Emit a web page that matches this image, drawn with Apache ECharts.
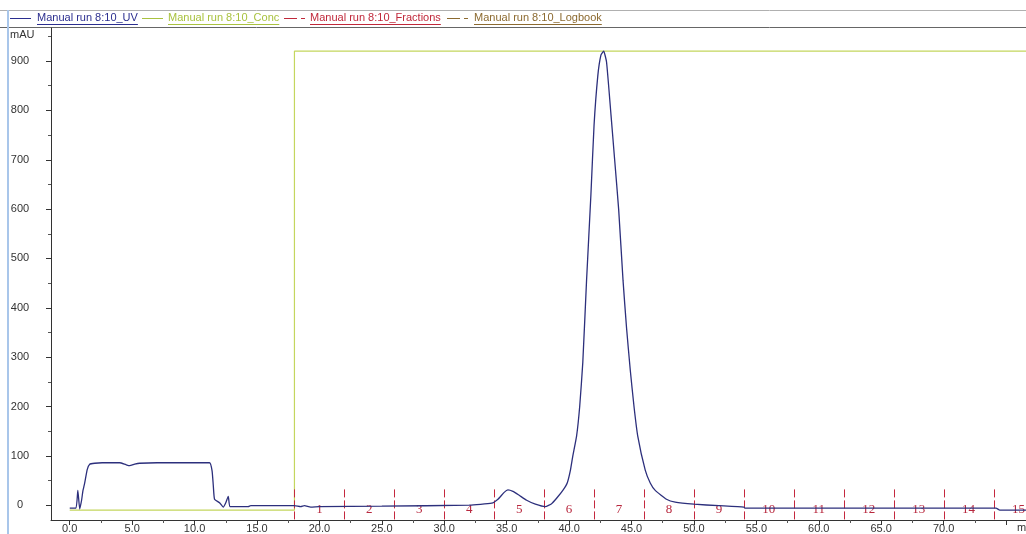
<!DOCTYPE html>
<html>
<head>
<meta charset="utf-8">
<script src="https://cdn.jsdelivr.net/npm/echarts@6.0.0/dist/echarts.min.js"></script>
<style>
  html, body { margin: 0; padding: 0; background: #fff; }
  #chart { width: 1026px; height: 534px; }
</style>
</head>
<body>
<div id="chart"></div>
<script>
// UV trace (min, mAU)
var uvTime = [0.0, 0.5, 0.65, 0.8, 0.95, 1.05, 1.2, 1.4, 1.6, 2.0, 2.6, 4.0, 4.5, 4.8, 5.2, 5.6, 7.0, 11.2, 11.4, 11.5, 11.6, 12.0, 12.3, 12.5, 12.7, 12.85, 14.3, 14.5, 18.0, 18.5, 18.8, 19.3, 20.0, 25.0, 32.0, 33.8, 34.3, 34.8, 35.1, 35.5, 36.0, 36.6, 37.3, 38.1, 38.6, 39.0, 39.5, 39.85, 40.1, 40.3, 40.6, 40.85, 41.1, 41.4, 41.75, 42.0, 42.3, 42.55, 42.77, 43.0, 43.36, 43.65, 43.97, 44.32, 44.6, 44.9, 45.2, 45.5, 46.1, 46.5, 46.9, 47.8, 48.5, 50.0, 52.0, 54.0, 54.1, 74.2, 74.5, 76.6];
var uvValue = [-6, -6, 30, -8, 10, 28, 45, 72, 83, 85, 86, 86, 82, 80, 83, 85, 86, 86, 70, 40, 12, 5, -4, 5, 18, -3, -3, -1, -1, -3, -1, -4, -3, -2, 0, 4, 12, 26, 31, 28, 20, 10, 2, -3, 3, 14, 30, 45, 70, 100, 140, 200, 290, 456, 630, 770, 870, 912, 920, 898, 790, 700, 600, 456, 360, 274, 200, 140, 71, 45, 30, 12, 6, 2, -1, -4, -6, -6, -10, -10];

// Conc trace
var concTime = [0, 18.0, 18.0, 76.6];
var concValue = [-10, -10, 920, 920];

// Fractions
var fracStart = [18, 22, 26, 30, 34, 38, 42, 46, 50, 54, 58, 62, 66, 70, 74];
var fracLabel = ['1', '2', '3', '4', '5', '6', '7', '8', '9', '10', '11', '12', '13', '14', '15'];

// Axis ticks
var xLabelValues = [0, 5, 10, 15, 20, 25, 30, 35, 40, 45, 50, 55, 60, 65, 70];
var xTickValues = [0, 5, 10, 15, 20, 25, 30, 35, 40, 45, 50, 55, 60, 65, 70, 75];
var xMinorValues = [2.5, 7.5, 12.5, 17.5, 22.5, 27.5, 32.5, 37.5, 42.5, 47.5, 52.5, 57.5, 62.5, 67.5, 72.5];
var yLabelValues = [0, 100, 200, 300, 400, 500, 600, 700, 800, 900];
var yMinorValues = [50, 150, 250, 350, 450, 550, 650, 750, 850, 950];

var seriesNames = ['Manual run 8:10_UV', 'Manual run 8:10_Conc', 'Manual run 8:10_Fractions', 'Manual run 8:10_Logbook'];

var xMin = -1.5, xMax = 76.6, yMin = -30, yMax = 967;
var fracTop = 32, fracTextY = -8;

var uvColor = '#2c2f7c';
var concColor = '#c4d65e';
var fracColor = '#c4283e';

var chart = echarts.init(document.getElementById('chart'), null, { renderer: 'canvas' });

function measure(text, font) {
	var c = document.createElement('canvas').getContext('2d');
	c.font = font;
	return c.measureText(text).width;
}

var legendFont = '11px "Liberation Sans", Arial, sans-serif';
var legendItems = [
	{ name: seriesNames[0], x: 37, lx: 10, color: '#2b2e8f', dash: false },
	{ name: seriesNames[1], x: 168, lx: 142, color: '#a9c23f', dash: false },
	{ name: seriesNames[2], x: 310, lx: 284, color: '#c0283a', dash: true },
	{ name: seriesNames[3], x: 474, lx: 447, color: '#8c6a30', dash: true }
];

var graphics = [
	{ type: 'line', shape: { x1: 0, y1: 10.5, x2: 1026, y2: 10.5 }, style: { stroke: '#b0b0b0', lineWidth: 1 } },
	{ type: 'line', shape: { x1: 0, y1: 27.5, x2: 1026, y2: 27.5 }, style: { stroke: '#666', lineWidth: 1 } },
	{ type: 'line', shape: { x1: 8, y1: 10, x2: 8, y2: 534 }, style: { stroke: '#a9c6ea', lineWidth: 2 } },
	{ type: 'text', left: 10, top: 29, style: { text: 'mAU', fill: '#333', font: legendFont } },
	{ type: 'text', left: 1017, top: 522, style: { text: 'min', fill: '#333', font: legendFont } }
];
legendItems.forEach(function(it) {
	var w = measure(it.name, legendFont);
	if (it.dash) {
		graphics.push({ type: 'line', shape: { x1: it.lx, y1: 18.5, x2: it.lx + 13, y2: 18.5 }, style: { stroke: it.color, lineWidth: 1 } });
		graphics.push({ type: 'line', shape: { x1: it.lx + 17, y1: 18.5, x2: it.lx + 21, y2: 18.5 }, style: { stroke: it.color, lineWidth: 1 } });
	} else {
		graphics.push({ type: 'line', shape: { x1: it.lx, y1: 18.5, x2: it.lx + 21, y2: 18.5 }, style: { stroke: it.color, lineWidth: 1 } });
	}
	graphics.push({ type: 'text', left: it.x, top: 12, style: { text: it.name, fill: it.color, font: legendFont } });
	graphics.push({ type: 'line', shape: { x1: it.x, y1: 24.5, x2: it.x + w, y2: 24.5 }, style: { stroke: it.color, lineWidth: 1 } });
});

var option = {
	backgroundColor: '#fff',
	animation: false,
	grid: { left: 51, right: 0, top: 28, bottom: 14, containLabel: false },
	graphic: graphics,
	xAxis: [{
		type: 'value',
		min: xMin,
		max: xMax,
		axisLine: { show: true, onZero: false, lineStyle: { color: '#333', width: 1 } },
		axisTick: { show: true, length: 5, customValues: xTickValues, lineStyle: { color: '#333' } },
		axisLabel: {
			customValues: xLabelValues,
			margin: 3,
			color: '#333',
			fontSize: 11,
			fontFamily: '"Liberation Sans", Arial, sans-serif',
			formatter: function(v) { return v.toFixed(1); }
		},
		splitLine: { show: false }
	}, {
		type: 'value',
		position: 'bottom',
		min: xMin,
		max: xMax,
		axisLine: { show: false, onZero: false },
		axisTick: { show: true, length: 3, customValues: xMinorValues, lineStyle: { color: '#555' } },
		axisLabel: { show: false },
		splitLine: { show: false }
	}],
	yAxis: [{
		type: 'value',
		min: yMin,
		max: yMax,
		axisLine: { show: true, onZero: false, lineStyle: { color: '#333', width: 1 } },
		axisTick: { show: true, length: 5, customValues: yLabelValues, lineStyle: { color: '#333' } },
		axisLabel: {
			customValues: yLabelValues,
			align: 'center',
			margin: 31,
			color: '#333',
			fontSize: 11,
			fontFamily: '"Liberation Sans", Arial, sans-serif'
		},
		splitLine: { show: false }
	}, {
		type: 'value',
		position: 'left',
		min: yMin,
		max: yMax,
		axisLine: { show: false, onZero: false },
		axisTick: { show: true, length: 3, customValues: yMinorValues, lineStyle: { color: '#555' } },
		axisLabel: { show: false },
		splitLine: { show: false }
	}],
	series: [{
		name: seriesNames[1],
		type: 'line',
		showSymbol: false,
		data: concTime.map(function(t, i) { return [t, concValue[i]]; }),
		lineStyle: { color: concColor, width: 1.2 },
		z: 2
	}, {
		name: seriesNames[2],
		type: 'custom',
		clip: false,
		data: fracStart.map(function(s, i) { return [s, fracLabel[i]]; }),
		renderItem: function(params, api) {
			var x = api.value(0);
			var top = api.coord([x, fracTop]);
			var bot = api.coord([x, yMin]);
			var mid = api.coord([x + 2, fracTextY]);
			return {
				type: 'group',
				children: [{
					type: 'line',
					shape: { x1: Math.round(top[0]) + 0.5, y1: top[1], x2: Math.round(top[0]) + 0.5, y2: bot[1] },
					style: { stroke: fracColor, lineWidth: 1, lineDash: [8, 3] }
				}, {
					type: 'text',
					x: mid[0],
					y: mid[1],
					style: {
						text: String(fracLabel[params.dataIndex]),
						fill: '#b8283e',
						font: '13px "Liberation Serif", "Times New Roman", serif',
						align: 'center',
						verticalAlign: 'middle'
					}
				}]
			};
		},
		z: 3
	}, {
		name: seriesNames[0],
		type: 'line',
		showSymbol: false,
		smooth: 0.15,
		data: uvTime.map(function(t, i) { return [t, uvValue[i]]; }),
		lineStyle: { color: uvColor, width: 1.3 },
		z: 4
	}]
};

chart.setOption(option);
window.addEventListener('resize', function() {
	chart.resize();
});
</script>
</body>
</html>
